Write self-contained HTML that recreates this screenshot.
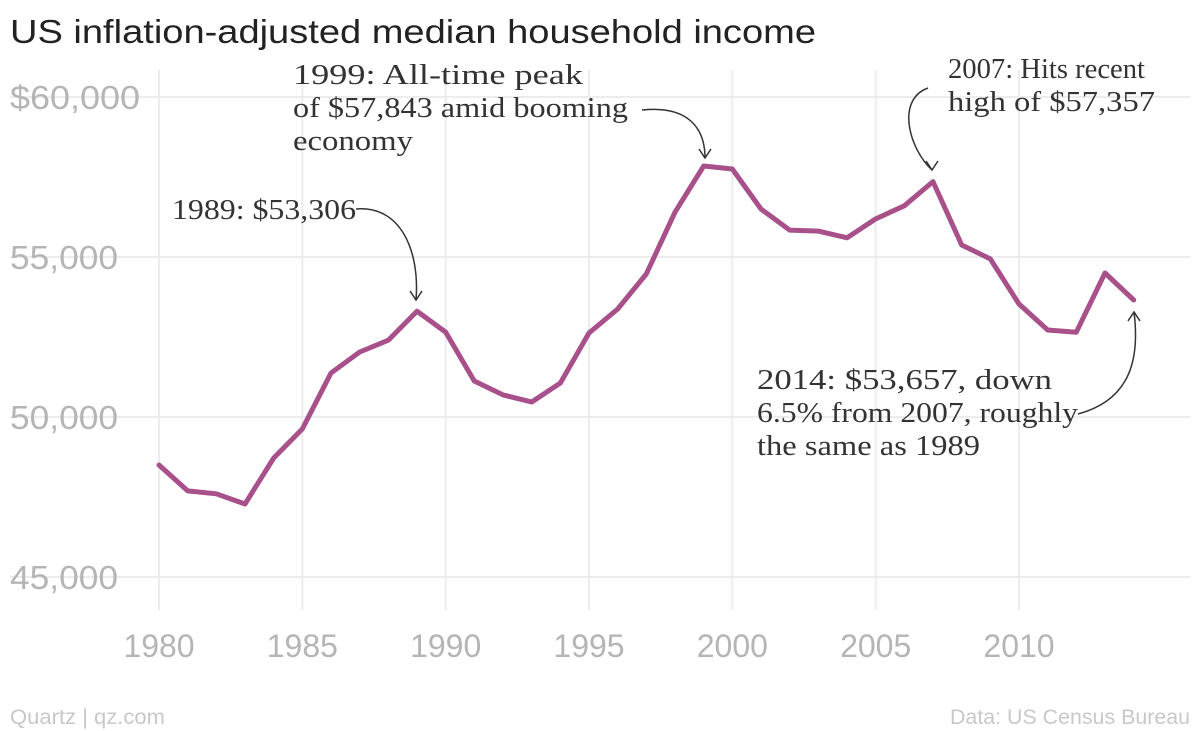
<!DOCTYPE html>
<html><head><meta charset="utf-8"><style>
body{margin:0;background:#fff;width:1200px;height:731px;overflow:hidden}
svg{display:block}
</style></head><body>
<svg id="chart" width="1200" height="731"></svg>
<script>
const years=[1980,1981,1982,1983,1984,1985,1986,1987,1988,1989,1990,1991,1992,1993,1994,1995,1996,1997,1998,1999,2000,2001,2002,2003,2004,2005,2006,2007,2008,2009,2010,2011,2012,2013,2014];
const incomes=[48500,47690,47600,47280,48720,49625,51375,52030,52400,53306,52650,51125,50690,50470,51060,52625,53375,54470,56400,57843,57750,56500,55840,55810,55600,56190,56600,57357,55375,54940,53530,52720,52650,54500,53657];
const yTicks=[45000,50000,55000,60000];
const yTickLabels=["45,000","50,000","55,000","$60,000"];
const xTicks=[1980,1985,1990,1995,2000,2005,2010];

const NS="http://www.w3.org/2000/svg";
const svg=document.getElementById('chart');
function xs(y){return 159+(y-1980)*(1019-159)/30;}
function ys(v){return 97+(60000-v)*0.032;}
function mk(tag,attrs,text){const e=document.createElementNS(NS,tag);for(const k in attrs)e.setAttribute(k,attrs[k]);if(text!==undefined)e.textContent=text;svg.appendChild(e);return e;}

let e=mk('text',{x:10,y:43,'font-family':'Liberation Sans, sans-serif','font-size':33,fill:'#222',textLength:806,lengthAdjust:'spacingAndGlyphs'},'US inflation-adjusted median household income');



yTicks.forEach((v,i)=>{
  let g=mk('line',{x1:10,x2:1190,y1:ys(v),y2:ys(v),stroke:'#ececec','stroke-width':2});
  
  
  let t=mk('text',{x:10,y:ys(v)+12,'font-family':'Liberation Sans, sans-serif','font-size':33,fill:'#b5b5b5',textLength:(i===3?130:108),lengthAdjust:'spacingAndGlyphs'},yTickLabels[i]);
  
  
});
xTicks.forEach(v=>{
  let g=mk('line',{x1:xs(v),x2:xs(v),y1:70,y2:610,stroke:'#ececec','stroke-width':2});
  
  
  let t=mk('text',{x:xs(v),y:657,'text-anchor':'middle','font-family':'Liberation Sans, sans-serif','font-size':32,fill:'#b5b5b5'},String(v));
  
  
});

let d=years.map((y,i)=>(i?'L':'M')+xs(y).toFixed(1)+','+ys(incomes[i]).toFixed(1)).join(' ');
let line=mk('path',{d:d,fill:'none',stroke:'#a8508a','stroke-width':5,'stroke-linejoin':'round','stroke-linecap':'round'});



function ann(lines,widths,x,y,name){
  lines.forEach((s,i)=>{
    let t=mk('text',{x:x,y:y+i*33,'font-family':'Liberation Serif, serif','font-size':29,fill:'#333',textLength:widths[i],lengthAdjust:'spacingAndGlyphs'},s);
    
    
  });
}
ann(['1999: All-time peak','of $57,843 amid booming','economy'],[290,335,120],293,84,'annotation-1999');
ann(['2007: Hits recent','high of  $57,357'],[197,207],948,78,'annotation-2007');
ann(['1989: $53,306'],[184],172,219,'annotation-1989');
ann(['2014: $53,657, down','6.5% from 2007, roughly','the same as 1989'],[295,321,223],757,389,'annotation-2014');

function arrow(p,ex,ey,dir,name){
  let a=mk('path',{d:p,fill:'none',stroke:'#333','stroke-width':1.5});
  
  
  let k=dir*9;
  let h=mk('path',{d:`M${ex-6},${ey-k} L${ex},${ey} L${ex+6},${ey-k}`,fill:'none',stroke:'#333','stroke-width':1.5});
  
  
}
arrow('M642,110 C690,105 705,130 705,158',705,158,1,'arrow-1999');
arrow('M928,88 C895,100 910,150 932,170',932,170,1,'arrow-2007');
arrow('M356,209 C400,205 420,250 416,300',416,300,1,'arrow-1989');
arrow('M1078,414 C1130,400 1140,360 1134,312',1134,312,-1,'arrow-2014');

let s1=mk('text',{x:10,y:724,'font-family':'Liberation Sans, sans-serif','font-size':21,fill:'#c8c8c8',textLength:155,lengthAdjust:'spacingAndGlyphs'},'Quartz | qz.com');


let s2=mk('text',{x:950,y:724,'font-family':'Liberation Sans, sans-serif','font-size':21,fill:'#c8c8c8',textLength:240,lengthAdjust:'spacingAndGlyphs'},'Data: US Census Bureau');


</script>
</body></html>
